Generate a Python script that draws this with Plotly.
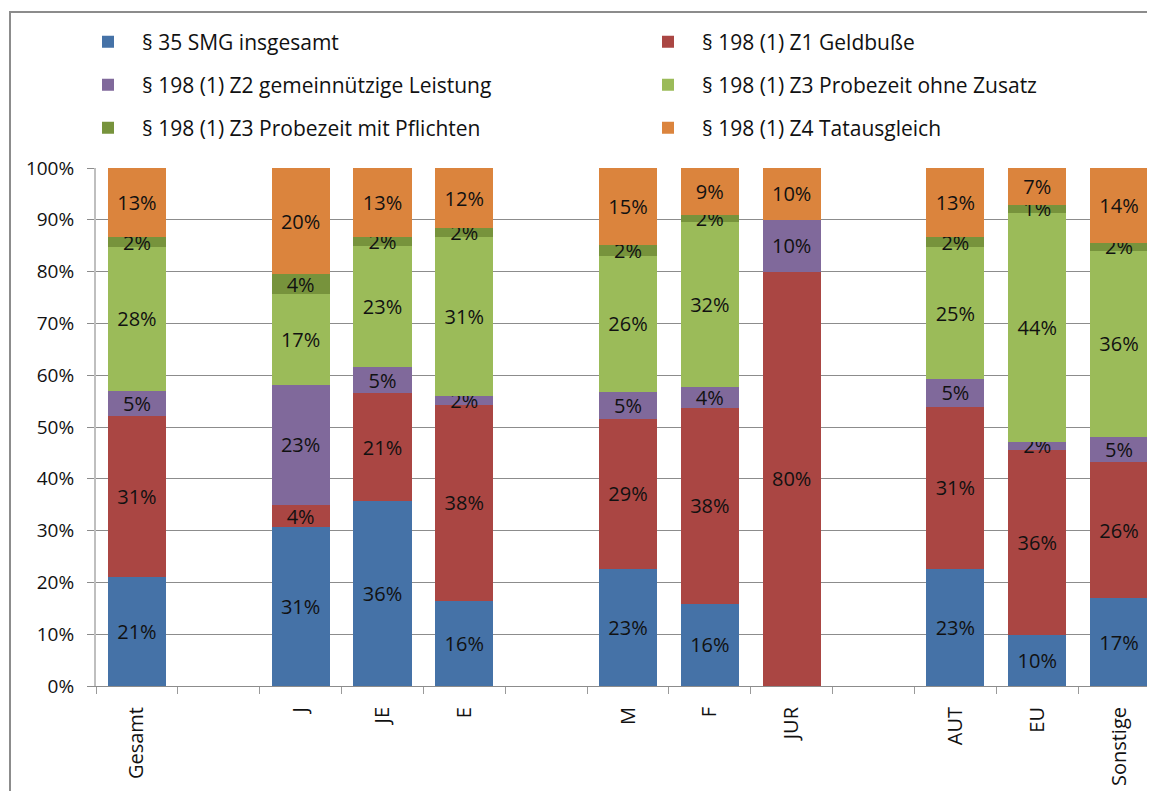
import plotly.graph_objects as go

categories = ["Gesamt", " ", "J", "JE", "E", "  ", "M", "F", "JUR", "   ", "AUT", "EU", "Sonstige"]

series_names = [
    "§ 35 SMG insgesamt",
    "§ 198 (1) Z1 Geldbuße",
    "§ 198 (1) Z2 gemeinnützige Leistung",
    "§ 198 (1) Z3 Probezeit ohne Zusatz",
    "§ 198 (1) Z3 Probezeit mit Pflichten",
    "§ 198 (1) Z4 Tatausgleich",
]

smg35 =        [21.0, None, 30.6, 35.7, 16.5, None, 22.6, 15.9, 0.0,  None, 22.6, 9.8,  16.9]
geldbusse =    [31.2, None, 4.3,  20.8, 37.8, None, 29.0, 37.8, 80.0, None, 31.3, 35.8, 26.4]
gemeinn =      [4.8,  None, 23.3, 5.0,  1.7,  None, 5.2,  4.1,  10.0, None, 5.4,  1.6,  4.8]
probe_ohne =   [27.8, None, 17.4, 23.4, 30.7, None, 26.3, 31.7, 0.0,  None, 25.4, 44.2, 35.9]
probe_mit =    [1.8,  None, 3.9,  1.7,  1.7,  None, 2.1,  1.5,  0.0,  None, 1.9,  1.4,  1.6]
tatausgleich = [13.4, None, 20.5, 13.4, 11.6, None, 14.8, 9.0,  10.0, None, 13.4, 7.2,  14.4]

y_ticks = [0, 10, 20, 30, 40, 50, 60, 70, 80, 90, 100]
y_ticklabels = [f"{v}%" for v in y_ticks]

colors = ["#4572A7", "#AA4643", "#80699B", "#9BBB59", "#77933C", "#DB843D"]
values = [smg35, geldbusse, gemeinn, probe_ohne, probe_mit, tatausgleich]

FONT = "Open Sans"
W, H = 1155, 791
OFF = 8  # page body margin
ML, MT, PW, PH = 96 - OFF, 168 - OFF, 1064, 518
MB = H - MT - PH
MR = W - ML - PW

def px_to_paper_x(px):
    return (px - OFF - ML) / PW

def px_to_paper_y(py):
    return (MT + PH - (py - OFF)) / PH

# legend placement (column start, row centre) in page pixels
leg_cols = [74, 634]
leg_rows = [42, 85, 128]

fig = go.Figure()
layout_legends = {}
for i, (name, vals, col) in enumerate(zip(series_names, values, colors)):
    lid = "legend" if i == 0 else f"legend{i + 1}"
    txt = [("" if (v is None or v == 0) else f"{v:.0f}%") for v in vals]
    fig.add_trace(go.Bar(
        x=categories, y=vals, name=name,
        marker=dict(color=col, line=dict(width=0)),
        text=txt, textposition="inside", insidetextanchor="middle",
        textangle=0, constraintext="none",
        textfont=dict(family=FONT, size=20, color="#111111"),
        hoverinfo="skip", legend=lid, showlegend=True,
    ))
    layout_legends[lid] = dict(
        x=px_to_paper_x(leg_cols[i % 2]), y=px_to_paper_y(leg_rows[i // 2]),
        xanchor="left", yanchor="middle", orientation="v", itemwidth=58,
        font=dict(family=FONT, size=21, color="#111111"),
        bgcolor="rgba(0,0,0,0)", itemclick=False, itemdoubleclick=False,
        visible=True,
    )

fig.update_layout(
    width=W, height=H, showlegend=True,
    margin=dict(l=ML, r=MR, t=MT, b=MB, autoexpand=False),
    paper_bgcolor="white", plot_bgcolor="white",
    barmode="stack", bargap=0.29,
    font=dict(family=FONT, size=18, color="#111111"),
    xaxis=dict(
        type="category", categoryorder="array", categoryarray=categories,
        range=[-0.5, 12.5], tickangle=-90, tickson="boundaries",
        ticks="outside", ticklen=7, tickcolor="#9A9A9A", ticklabelstandoff=12,
        showline=True, linecolor="#8C8C8C", linewidth=1,
        tickfont=dict(family=FONT, size=20, color="#111111"),
        showgrid=False, fixedrange=True,
    ),
    yaxis=dict(
        range=[0, 100], tickmode="array", tickvals=y_ticks, ticktext=y_ticklabels,
        ticks="outside", ticklen=7, tickcolor="#8C8C8C", ticklabelstandoff=9,
        showline=True, linecolor="#BFBFBF", linewidth=2,
        showgrid=True, gridcolor="#8C8C8C", gridwidth=1,
        tickfont=dict(family=FONT, size=19, color="#111111"),
        zeroline=False, fixedrange=True,
    ),
    shapes=[dict(
        type="rect", xref="paper", yref="paper",
        x0=px_to_paper_x(10), x1=1.2, y0=-0.5, y1=px_to_paper_y(12),
        line=dict(color="#8C8C8C", width=2), fillcolor="rgba(0,0,0,0)", layer="below",
    )],
    **layout_legends,
)

fig.write_html("out.html")
